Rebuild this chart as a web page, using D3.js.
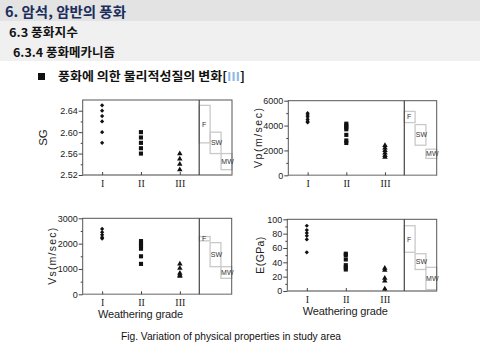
<!DOCTYPE html>
<html><head><meta charset="utf-8">
<script src="https://cdn.jsdelivr.net/npm/d3@7/dist/d3.min.js"></script>
<style>
html,body{margin:0;padding:0;background:#fff;}
svg{display:block;}
</style></head>
<body><svg id="c" width="480" height="360"></svg>
<script>
// ---- data ----
const grades = ["I", "II", "III"];
const zones = ["F", "SW", "MW"];

const sgI = [2.65, 2.64, 2.63, 2.62, 2.60, 2.58];
const sgII = [2.60, 2.59, 2.58, 2.57, 2.56];
const sgIII = [2.56, 2.55, 2.54, 2.53];
const sgRanges = [[2.58, 2.65], [2.56, 2.60], [2.53, 2.56]];
const sgTicks = [2.52, 2.56, 2.60, 2.64];
const sgMinor = [2.54, 2.58, 2.62];

const vpI = [5000, 4850, 4700, 4500, 4350, 4250];
const vpII = [4150, 4000, 3850, 3700, 3250, 2800, 2600];
const vpIII = [2400, 2200, 2000, 1800, 1600, 1450];
const vpRanges = [[4240, 5140], [2420, 4080], [1360, 2100]];
const vpTicks = [0, 2000, 4000, 6000];
const vpMinor = [1000, 3000, 5000];

const vsI = [2580, 2450, 2350, 2250, 2200];
const vsII = [2100, 2000, 1900, 1800, 1500, 1200];
const vsIII = [1200, 1030, 830, 760, 720];
const vsRanges = [[2110, 2280], [1090, 2040], [630, 1090]];
const vsTicks = [0, 1000, 2000, 3000];
const vsMinor = [500, 1500, 2500];

const eI = [91, 85, 81, 77, 72, 54];
const eII = [52, 50, 44, 36, 33, 30];
const eIII = [32, 29, 18, 14, 3];
const eRanges = [[54, 91], [30, 52], [2, 33]];
const eTicks = [0, 20, 40, 60, 80, 100];
const eMinor = [10, 30, 50, 70, 90];

const yLabels = ["SG", "Vp(m/sec)", "Vs(m/sec)", "E(GPa)"];
const xTitle = "Weathering grade";
const caption = "Fig. Variation of physical properties in study area";

// ---- layout ----
const svg = d3.select("#c");

// header bands
svg.append("rect").attr("x", 0).attr("y", 0).attr("width", 480).attr("height", 21).attr("fill", "#e3e3e3");
svg.append("rect").attr("x", 0).attr("y", 21).attr("width", 480).attr("height", 40).attr("fill", "#f0f0f0");
const kfont = "'Noto Sans CJK KR', 'Noto Sans', sans-serif";
svg.append("text").attr("x", 5).attr("y", 16.5).attr("font-family", kfont).attr("font-weight", 700)
  .attr("font-size", 14).attr("fill", "#1b2d5c").attr("textLength", 121).attr("lengthAdjust", "spacingAndGlyphs")
  .text("6. 암석, 암반의 풍화");
svg.append("text").attr("x", 9).attr("y", 36.5).attr("font-family", kfont).attr("font-weight", 700)
  .attr("font-size", 12).attr("fill", "#111").attr("textLength", 69).attr("lengthAdjust", "spacingAndGlyphs")
  .text("6.3 풍화지수");
svg.append("text").attr("x", 13).attr("y", 56.5).attr("font-family", kfont).attr("font-weight", 700)
  .attr("font-size", 12).attr("fill", "#111").attr("textLength", 102).attr("lengthAdjust", "spacingAndGlyphs")
  .text("6.3.4 풍화메카니즘");
svg.append("rect").attr("x", 38).attr("y", 73).attr("width", 7).attr("height", 7).attr("fill", "#111");
const t4 = svg.append("text").attr("x", 58).attr("y", 80.5).attr("font-family", kfont).attr("font-weight", 700)
  .attr("font-size", 12).attr("fill", "#111").attr("textLength", 187).attr("lengthAdjust", "spacingAndGlyphs");
t4.append("tspan").text("풍화에 의한 물리적성질의 변화[");
t4.append("tspan").attr("fill", "#8db7e2").text("Ⅲ");
t4.append("tspan").text("]");

const panels = [
  { vals: [sgI, sgII, sgIII], ranges: sgRanges, domain: [2.52, 2.66], ticks: sgTicks, minor: sgMinor,
    fmt: d3.format(".2f"), label: yLabels[0], llen: null, x0: 82.7, y0: 100, x1: 199.2, x2: 232, y1: 175, lx: 42.5, xt: false },
  { vals: [vpI, vpII, vpIII], ranges: vpRanges, domain: [0, 6000], ticks: vpTicks, minor: vpMinor,
    fmt: d3.format("d"), label: yLabels[1], llen: 60, x0: 288.3, y0: 100.7, x1: 404.3, x2: 436.7, y1: 175.3, lx: 258, xt: false },
  { vals: [vsI, vsII, vsIII], ranges: vsRanges, domain: [0, 3000], ticks: vsTicks, minor: vsMinor,
    fmt: d3.format("d"), label: yLabels[2], llen: 57, x0: 82.7, y0: 218.3, x1: 199.3, x2: 231.7, y1: 294.3, lx: 52, xt: true },
  { vals: [eI, eII, eIII], ranges: eRanges, domain: [0, 100], ticks: eTicks, minor: eMinor,
    fmt: d3.format("d"), label: yLabels[3], llen: 37, x0: 287.3, y0: 219.3, x1: 404.3, x2: 436.7, y1: 291, lx: 260.5, xt: true }
];

const symbols = [d3.symbolSquare, d3.symbolSquare, d3.symbolTriangle];
const symSizes = [9, 17, 13];
const symRot = [45, 0, 0];
const sansFont = "'Liberation Sans', Arial, sans-serif";

panels.forEach(p => {
  const g = svg.append("g");
  const x = d3.scalePoint().domain(grades).range([p.x0, p.x1]).padding(0.5);
  const y = d3.scaleLinear().domain(p.domain).range([p.y1, p.y0]);

  // side zone boxes
  const zx = d3.scaleBand().domain(zones).range([p.x1, p.x2]);
  p.ranges.forEach((r, i) => {
    const z = zones[i];
    g.append("rect").attr("x", zx(z)).attr("y", y(r[1])).attr("width", zx.bandwidth())
      .attr("height", y(r[0]) - y(r[1])).attr("fill", "none").attr("stroke", "#c9c9c9").attr("stroke-width", 1.3);
    g.append("text").attr("x", zx(z) + zx.bandwidth() / 2 + (i === 0 ? -0.5 : 1)).attr("y", (y(r[0]) + y(r[1])) / 2 + 2.5)
      .attr("text-anchor", "middle").attr("font-family", sansFont).attr("font-size", 7).attr("fill", "#333").text(z);
  });

  // frame
  g.append("rect").attr("x", p.x0).attr("y", p.y0).attr("width", p.x2 - p.x0).attr("height", p.y1 - p.y0)
    .attr("fill", "none").attr("stroke", "#555").attr("stroke-width", 1);
  g.append("line").attr("x1", p.x0).attr("x2", p.x2).attr("y1", p.y1).attr("y2", p.y1)
    .attr("stroke", "#999").attr("stroke-width", 1.2);
  g.append("line").attr("x1", p.x1).attr("x2", p.x1).attr("y1", p.y0).attr("y2", p.y1)
    .attr("stroke", "#444").attr("stroke-width", 1.2);

  // y axis
  const ya = g.append("g").attr("transform", `translate(${p.x0},0)`)
    .call(d3.axisLeft(y).tickValues(p.ticks).tickFormat(p.fmt).tickSize(4).tickPadding(1));
  ya.select(".domain").remove();
  ya.selectAll("line").attr("stroke", "#444");
  ya.selectAll("text").attr("font-family", sansFont).attr("font-size", 9).attr("fill", "#222");
  const ym = g.append("g").attr("transform", `translate(${p.x0},0)`)
    .call(d3.axisLeft(y).tickValues(p.minor).tickFormat("").tickSize(2));
  ym.select(".domain").remove();
  ym.selectAll("line").attr("stroke", "#444");

  // x axis
  const xa = g.append("g").attr("transform", `translate(0,${p.y1})`)
    .call(d3.axisBottom(x).tickSize(-3).tickPadding(5));
  xa.select(".domain").remove();
  xa.selectAll("line").attr("stroke", "#444");
  xa.selectAll("text").attr("font-family", "'Liberation Serif', 'Times New Roman', serif").attr("font-size", 10).attr("fill", "#222");

  // y label
  const yl = g.append("text").attr("transform", `translate(${p.lx},${(p.y0 + p.y1) / 2}) rotate(-90)`)
    .attr("text-anchor", "middle").attr("dy", "0.35em").attr("font-family", sansFont)
    .attr("font-size", p.llen ? 10.5 : 11.5).attr("fill", "#222").text(p.label);
  if (p.llen) yl.attr("textLength", p.llen).attr("lengthAdjust", "spacing");

  // x title
  if (p.xt) {
    g.append("text").attr("x", (p.x0 + p.x1) / 2 - 0.5).attr("y", p.y1 + 24).attr("text-anchor", "middle")
      .attr("font-family", sansFont).attr("font-size", 11).attr("textLength", 85).attr("lengthAdjust", "spacing")
      .attr("fill", "#222").text(xTitle);
  }

  // markers
  p.vals.forEach((arr, i) => {
    g.selectAll(null).data(arr).enter().append("path")
      .attr("d", d3.symbol().type(symbols[i]).size(symSizes[i]))
      .attr("transform", d => `translate(${x(grades[i])},${y(d)}) rotate(${symRot[i]})`)
      .attr("fill", "#111");
  });
});

svg.append("text").attr("x", 121).attr("y", 340).attr("font-family", sansFont).attr("font-size", 10)
  .attr("fill", "#111").attr("textLength", 220).attr("lengthAdjust", "spacingAndGlyphs").text(caption);
</script></body></html>
